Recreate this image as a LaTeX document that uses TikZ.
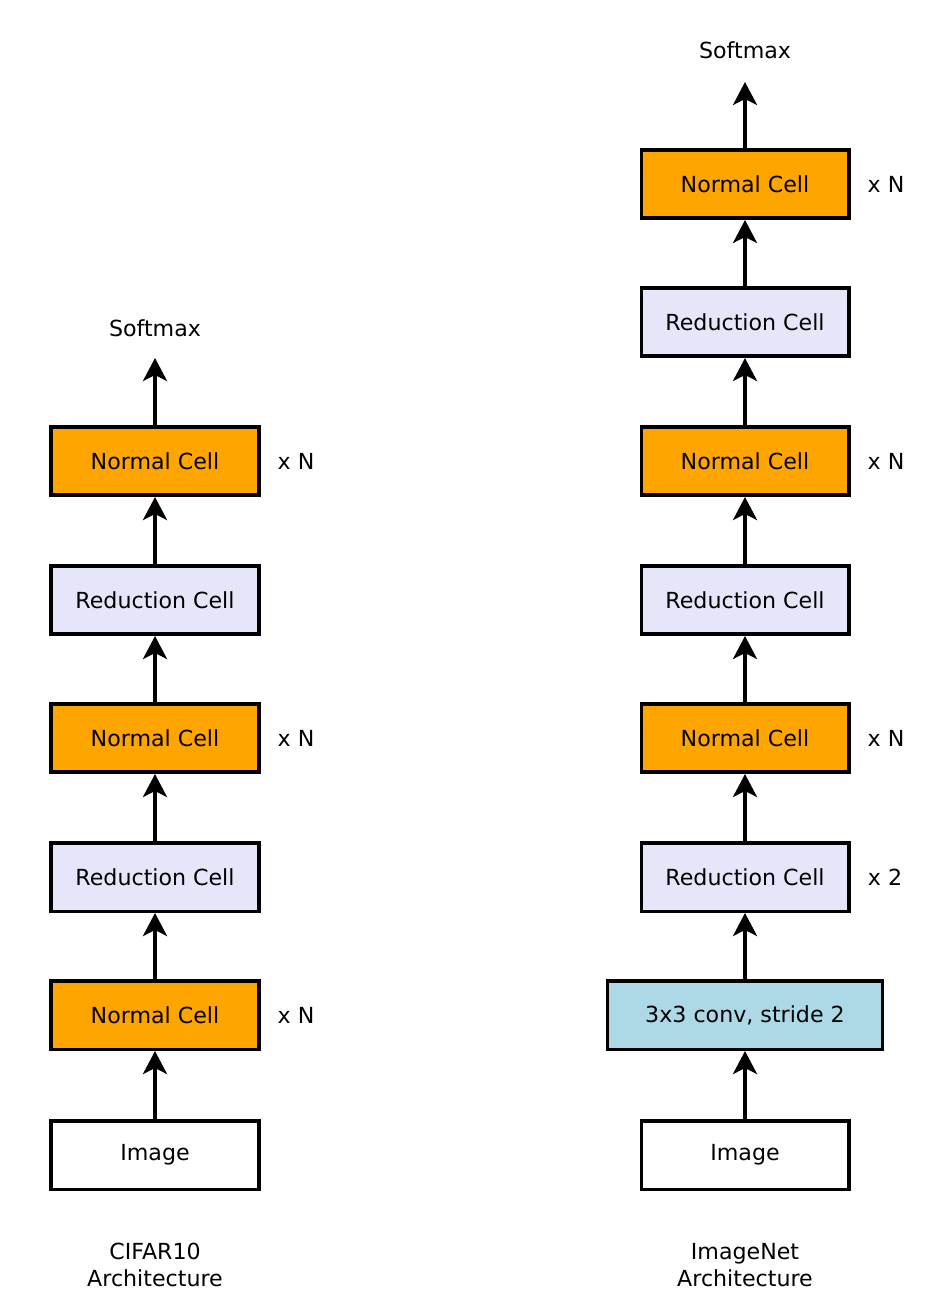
\documentclass[tikz,border=0pt]{standalone}
\usepackage{fontspec}
\setsansfont{DejaVu Sans}
\usetikzlibrary{arrows.meta}
\definecolor{CellOrange}{HTML}{FFA500}
\definecolor{CellLavender}{HTML}{E6E6FA}
\definecolor{ConvBlue}{HTML}{ADD8E6}

\begin{document}
\begin{tikzpicture}[line cap=butt,line join=miter,font=\sffamily\fontsize{12.6}{15.5}\selectfont,
  cell/.style={draw=black,line width=2pt,minimum width=4.15cm,minimum height=1.37cm,inner sep=0pt},
  normal/.style={cell,fill=CellOrange},
  reduction/.style={cell,fill=CellLavender},
  flow/.style={-{Stealth[length=4.6mm,width=4.8mm,inset=1.2mm]},line width=2pt}]
  \useasboundingbox (0,0) rectangle (18.7,-25.96);
  % CIFAR10 column
  \node[cell,fill=white] (cimg) at (3.1,-23.1) {Image};
  \node[normal] (cn1) at (3.1,-20.3) {Normal Cell};
  \node[reduction] (cr1) at (3.1,-17.54) {Reduction Cell};
  \node[normal] (cn2) at (3.1,-14.76) {Normal Cell};
  \node[reduction] (cr2) at (3.1,-12.0) {Reduction Cell};
  \node[normal] (cn3) at (3.1,-9.22) {Normal Cell};
  \coordinate (ctop) at (3.1,-7.16);
  \node (csoft) at (3.1,-6.56) {Softmax};
  \node (cx1) at (5.92,-20.3) {x N};
  \node (cx2) at (5.92,-14.76) {x N};
  \node (cx3) at (5.92,-9.22) {x N};
  \node[align=center] (clabel) at (3.1,-25.3) {CIFAR10\\Architecture};
  \draw[flow] (cimg) -- (cn1);
  \draw[flow] (cn1) -- (cr1);
  \draw[flow] (cr1) -- (cn2);
  \draw[flow] (cn2) -- (cr2);
  \draw[flow] (cr2) -- (cn3);
  \draw[flow] (cn3) -- (ctop);
  % ImageNet column
  \node[cell,fill=white] (iimg) at (14.9,-23.1) {Image};
  \node[cell,fill=ConvBlue,minimum width=5.5cm] (iconv) at (14.9,-20.3) {3x3 conv, stride 2};
  \node[reduction] (ir0) at (14.9,-17.54) {Reduction Cell};
  \node[normal] (in1) at (14.9,-14.76) {Normal Cell};
  \node[reduction] (ir1) at (14.9,-12.0) {Reduction Cell};
  \node[normal] (in2) at (14.9,-9.22) {Normal Cell};
  \node[reduction] (ir2) at (14.9,-6.44) {Reduction Cell};
  \node[normal] (in3) at (14.9,-3.68) {Normal Cell};
  \coordinate (itop) at (14.9,-1.64);
  \node (isoft) at (14.9,-1.0) {Softmax};
  \node (ix0) at (17.7,-17.54) {x 2};
  \node (ix1) at (17.72,-14.76) {x N};
  \node (ix2) at (17.72,-9.22) {x N};
  \node (ix3) at (17.72,-3.68) {x N};
  \node[align=center] (ilabel) at (14.9,-25.3) {ImageNet\\Architecture};
  \draw[flow] (iimg) -- (iconv);
  \draw[flow] (iconv) -- (ir0);
  \draw[flow] (ir0) -- (in1);
  \draw[flow] (in1) -- (ir1);
  \draw[flow] (ir1) -- (in2);
  \draw[flow] (in2) -- (ir2);
  \draw[flow] (ir2) -- (in3);
  \draw[flow] (in3) -- (itop);
\end{tikzpicture}
\end{document}
